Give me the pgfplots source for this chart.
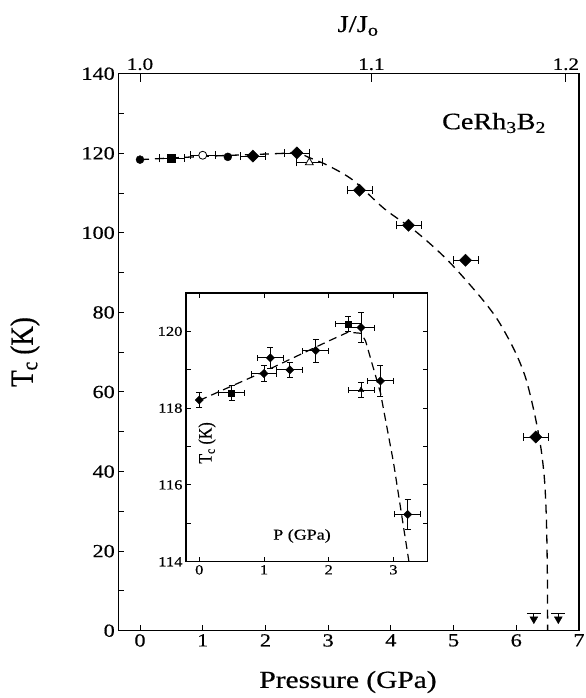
\documentclass[border=0pt]{standalone}
\usepackage{fontspec}
\setmainfont{Liberation Serif}[FakeStretch=1.2, FakeBold=0.5]
\newfontfamily\plainserif{Liberation Serif}[FakeBold=0.5]
\usepackage{graphicx}
\usepackage{pgfplots}
\usepackage{pgfplotstable}
\pgfplotsset{compat=1.18}

% ---------- main panel data ----------
\pgfplotstableread{
x y ex
0 118.4 0
1.4 119.1 0
}\mainCirc
\pgfplotstableread{
x y ex
0.5 118.7 0.2
}\mainSq
\pgfplotstableread{
x y ex
1.0 119.5 0.2
}\mainOpenCirc
\pgfplotstableread{
x y ex
1.8 119.3 0.2
2.5 120.1 0.2
3.5 110.7 0.2
4.28 101.9 0.2
5.19 93.1 0.2
6.31 48.7 0.2
}\mainDia
\pgfplotstableread{
x y ex
2.7 117.7 0.2
}\mainOpenTri
\pgfplotstableread{
x y ey
6.28 2.9 1.5
6.67 2.9 1.5
}\mainArrow
\pgfplotstableread{
x y
0 118.4
1 119.2
2 119.8
2.5 120.0
2.7 118.9
3.0 116.9
3.4 113.2
3.9 106.0
4.4 100.3
4.9 93.2
5.4 84.4
5.7 78.2
5.97 70.5
6.15 63.5
6.29 54.6
6.39 46.2
6.45 37.9
6.48 28
6.495 15
6.5 0
}\mainCurve

% ---------- inset data ----------
\pgfplotstableread{
x y ex ey
0 118.21 0 0.2
1.0 118.9 0.2 0.2
1.1 119.31 0.2 0.28
1.4 119.0 0.2 0.2
1.8 119.5 0.2 0.3
2.5 120.1 0.2 0.4
2.8 118.71 0.2 0.4
3.22 115.23 0.2 0.4
}\insDia
\pgfplotstableread{
x y ex ey
0.5 118.4 0.2 0.2
2.3 120.2 0.2 0.2
}\insSq
\pgfplotstableread{
x y ex ey
2.5 118.47 0.2 0.2
}\insTri
\pgfplotstableread{
x y
0 118.2
1 118.95
2 119.75
2.3 119.98
2.5 119.95
2.57 119.75
2.8 118.4
3.0 116.6
3.24 114
}\insCurve

\begin{document}
\begin{tikzpicture}
\useasboundingbox (0bp,0bp) rectangle (586bp,698bp);

% main axis
\begin{axis}[
  at={(118.3bp,67.3bp)}, anchor=south west, scale only axis,
  width=460.7bp, height=557bp,
  xmin=-0.346, xmax=7.0, ymin=0, ymax=140,
  xtick={0,1,2,3,4,5,6,7}, ytick={0,20,40,60,80,100,120,140},
  minor ytick={10,30,50,70,90,110,130},
  xtick pos=bottom, ytick pos=left,
  tick align=inside,
  major tick length=6bp, minor tick length=6bp,
  axis line style={line width=1.4bp},
  every tick/.style={black, line width=1bp},
  tick label style={font=\fontsize{18.5bp}{20bp}\selectfont},
  /pgf/number format/assume math mode=true,
  clip=false,
]
\addplot[black, line width=1.3bp, dash pattern=on 9bp off 6bp, smooth, tension=0.5] table[x=x,y=y]{\mainCurve};
\addplot[only marks, mark=*, mark size=4bp, mark options={fill=black, draw=black}]
  table[x=x,y=y]{\mainCirc};
\addplot[only marks, mark=square*, mark size=4bp, mark options={fill=black, draw=black},
  error bars/.cd, x dir=both, x explicit,
  error bar style={line width=0.6bp, black},
  error mark options={rotate=90, mark size=4bp, line width=0.6bp, black}]
  table[x=x,y=y,x error=ex]{\mainSq};
\addplot[only marks, mark=*, mark size=4bp, mark options={fill=white, draw=black, line width=0.8bp},
  error bars/.cd, x dir=both, x explicit,
  error bar style={line width=0.6bp, black},
  error mark options={rotate=90, mark size=4bp, line width=0.6bp, black}]
  table[x=x,y=y,x error=ex]{\mainOpenCirc};
\addplot[only marks, mark=square*, mark size=4.3bp, mark options={rotate=45, fill=black, draw=black},
  error bars/.cd, x dir=both, x explicit,
  error bar style={line width=0.6bp, black},
  error mark options={rotate=90, mark size=4bp, line width=0.6bp, black}]
  table[x=x,y=y,x error=ex]{\mainDia};
\addplot[only marks, mark=triangle*, mark size=4.5bp, mark options={fill=white, draw=black, line width=0.8bp},
  error bars/.cd, x dir=both, x explicit,
  error bar style={line width=0.6bp, black},
  error mark options={rotate=90, mark size=4bp, line width=0.6bp, black}]
  table[x=x,y=y,x error=ex]{\mainOpenTri};
\addplot[only marks, mark=triangle*, mark size=4.5bp, mark options={rotate=180, fill=black, draw=black},
  error bars/.cd, y dir=plus, y explicit,
  error bar style={line width=0.8bp, black},
  error mark options={rotate=90, mark size=7bp, line width=0.8bp, black}]
  table[x=x,y=y,y error=ey]{\mainArrow};
\end{axis}

% top J/Jo axis
\begin{axis}[
  at={(118.3bp,67.3bp)}, anchor=south west, scale only axis,
  width=460.7bp, height=557bp,
  xmin=-0.346, xmax=7.0, ymin=0, ymax=140,
  xtick={0,3.69,6.79}, xticklabels={1.0,1.1,1.2},
  xtick pos=top, xticklabel pos=top, ytick=\empty,
  tick align=inside, major tick length=8bp,
  axis line style={draw=none},
  every tick/.style={black, line width=1bp},
  tick label style={font=\fontsize{17.5bp}{19bp}\selectfont},
]
\end{axis}

% inset
\begin{axis}[
  at={(186bp,136.3bp)}, anchor=south west, scale only axis,
  width=241.7bp, height=268.7bp,
  xmin=-0.205, xmax=3.53, ymin=114, ymax=121,
  xtick={0,1,2,3}, ytick={114,116,118,120},
  minor ytick={115,117,119,121},
  tick align=inside,
  major tick length=4.5bp, minor tick length=4.5bp,
  axis background/.style={fill=white},
  axis line style={line width=1.3bp},
  every tick/.style={black, line width=0.9bp},
  tick label style={font=\fontsize{13.8bp}{15bp}\selectfont},
  /pgf/number format/assume math mode=true,
  clip=false,
]
\addplot[black, line width=1.2bp, dash pattern=on 8bp off 5bp] table[x=x,y=y]{\insCurve};
\addplot[only marks, mark=square*, mark size=2.9bp, mark options={rotate=45, fill=black, draw=black},
  error bars/.cd, x dir=both, x explicit, y dir=both, y explicit,
  error bar style={line width=0.9bp, black},
  error mark options={rotate=90, mark size=3bp, line width=0.9bp, black}]
  table[x=x,y=y,x error=ex,y error=ey]{\insDia};
\addplot[only marks, mark=square*, mark size=3bp, mark options={fill=black, draw=black},
  error bars/.cd, x dir=both, x explicit, y dir=both, y explicit,
  error bar style={line width=0.9bp, black},
  error mark options={rotate=90, mark size=3bp, line width=0.9bp, black}]
  table[x=x,y=y,x error=ex,y error=ey]{\insSq};
\addplot[only marks, mark=triangle*, mark size=3.2bp, mark options={fill=black, draw=black},
  error bars/.cd, x dir=both, x explicit, y dir=both, y explicit,
  error bar style={line width=0.9bp, black},
  error mark options={rotate=90, mark size=3bp, line width=0.9bp, black}]
  table[x=x,y=y,x error=ex,y error=ey]{\insTri};
\end{axis}

% labels
\node[font=\fontsize{24bp}{26bp}\selectfont] at (358bp,672bp) {J/J\textsubscript{o}};
\node[font=\fontsize{24.5bp}{26bp}\selectfont] at (348bp,16bp) {Pressure (GPa)};
\node[rotate=90] at (25bp,346bp) {\scalebox{1}[1.2]{\plainserif\fontsize{27bp}{29bp}\selectfont T\textsubscript{c} (K)}};
\node[font=\fontsize{23.5bp}{25bp}\selectfont] at (494bp,575bp) {CeRh\textsubscript{3}B\textsubscript{2}};
\node[rotate=90] at (207bp,255bp) {\scalebox{1}[1.2]{\plainserif\fontsize{16bp}{18bp}\selectfont T\textsubscript{c} (K)}};
\node[font=\fontsize{15bp}{17bp}\selectfont] at (302bp,162bp) {P (GPa)};
\end{tikzpicture}
\end{document}
